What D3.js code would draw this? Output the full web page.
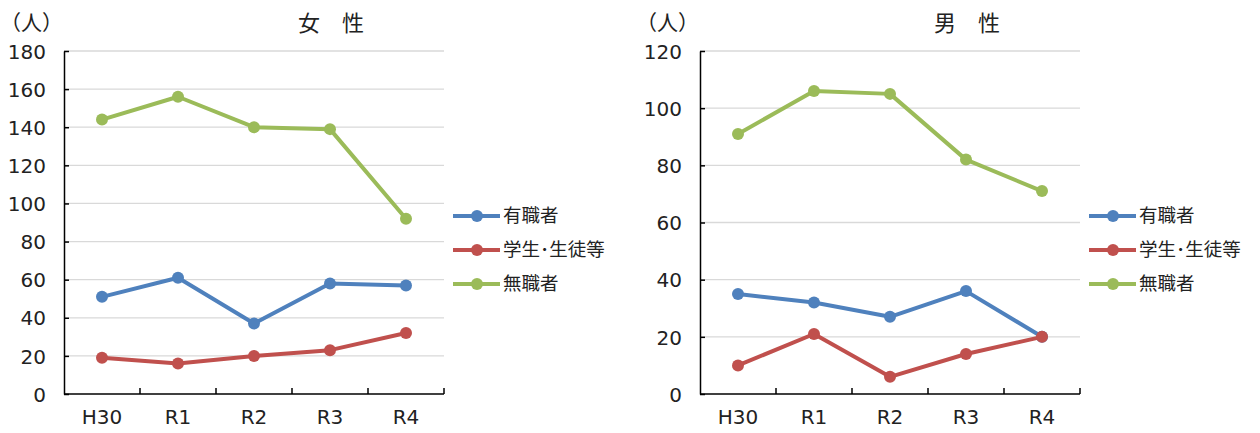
<!DOCTYPE html>
<html>
<head>
<meta charset="utf-8">
<script src="https://d3js.org/d3.v7.min.js"></script>
<style>
body { margin: 0; background: #fff; }
svg { display: block; font-family: "Noto Sans CJK JP", "DejaVu Sans", sans-serif; }
.grid line { stroke: #d9d9d9; stroke-width: 1.3; }
.axis path, .axis line { stroke: #000; stroke-width: 1.5; }
.axis text { font-size: 20px; fill: #222; font-family: "DejaVu Sans", sans-serif; }
</style>
</head>
<body>
<svg width="1260" height="433"></svg>
<script>
const years = ["H30", "R1", "R2", "R3", "R4"];
const seriesNames = ["有職者", "学生･生徒等", "無職者"];
const colors = ["#4F81BD", "#C0504D", "#9BBB59"];

const femaleEmployed = [51, 61, 37, 58, 57];
const femaleStudent = [19, 16, 20, 23, 32];
const femaleUnemployed = [144, 156, 140, 139, 92];

const maleEmployed = [35, 32, 27, 36, 20];
const maleStudent = [10, 21, 6, 14, 20];
const maleUnemployed = [91, 106, 105, 82, 71];

const femaleTicks = [0, 20, 40, 60, 80, 100, 120, 140, 160, 180];
const maleTicks = [0, 20, 40, 60, 80, 100, 120];

const svg = d3.select("svg");

function drawChart(opts) {
  const g = svg.append("g");
  const x = d3.scaleBand().domain(years).range([opts.left, opts.left + 380]);
  const y = d3.scaleLinear().domain([0, opts.max]).range([394, 51]);

  // gridlines
  g.append("g").attr("class", "grid")
    .selectAll("line").data(opts.ticks.slice(1)).enter().append("line")
    .attr("x1", opts.left).attr("x2", opts.left + 380)
    .attr("y1", d => y(d)).attr("y2", d => y(d));

  // y axis
  const ya = g.append("g").attr("class", "axis")
    .attr("transform", "translate(" + opts.left + ",0)")
    .call(d3.axisLeft(y).tickValues(opts.ticks).tickSizeInner(-5).tickSizeOuter(0).tickPadding(18));
  ya.selectAll("text").attr("dy", "0.36em");

  // x axis with ticks at category boundaries
  const xa = g.append("g").attr("class", "axis")
    .attr("transform", "translate(0,394)");
  xa.append("line").attr("x1", opts.left).attr("x2", opts.left + 380).attr("y1", 0).attr("y2", 0);
  xa.selectAll(".tk").data(years).enter().append("line").attr("class", "tk")
    .attr("x1", d => x(d) + x.bandwidth()).attr("x2", d => x(d) + x.bandwidth())
    .attr("y1", 0).attr("y2", -6);
  xa.selectAll(".lbl").data(years).enter().append("text").attr("class", "lbl")
    .attr("x", d => x(d) + x.bandwidth() / 2).attr("y", 30)
    .attr("text-anchor", "middle").text(d => d);

  // series
  const line = d3.line().x((d, i) => x(years[i]) + x.bandwidth() / 2).y(d => y(d));
  opts.data.forEach((vals, s) => {
    g.append("path").datum(vals)
      .attr("d", line).attr("fill", "none")
      .attr("stroke", colors[s]).attr("stroke-width", 4).attr("stroke-linejoin", "round");
    g.selectAll(".pt" + s).data(vals).enter().append("circle")
      .attr("cx", (d, i) => x(years[i]) + x.bandwidth() / 2).attr("cy", d => y(d))
      .attr("r", 6).attr("fill", colors[s]);
  });

  // unit label and title
  g.append("text").attr("x", opts.left - 64).attr("y", 30)
    .attr("font-size", 21).attr("fill", "#222").text("（人）");
  g.append("text").attr("x", opts.left + 267).attr("y", 31)
    .attr("font-size", 22).attr("fill", "#222").attr("text-anchor", "middle")
    .text(opts.title);

  // legend
  const lg = g.append("g").attr("transform", "translate(" + (opts.left + 389) + ",216)");
  seriesNames.forEach((name, s) => {
    const row = lg.append("g").attr("transform", "translate(0," + (s * 34) + ")");
    row.append("line").attr("x1", 0).attr("x2", 47).attr("stroke", colors[s]).attr("stroke-width", 4);
    row.append("circle").attr("cx", 24).attr("r", 6).attr("fill", colors[s]);
    row.append("text").attr("x", 50).attr("dy", "0.35em")
      .attr("font-size", 18.5).attr("fill", "#222").text(name);
  });
}

drawChart({ left: 64, max: 180, ticks: femaleTicks, title: "女　性",
  data: [femaleEmployed, femaleStudent, femaleUnemployed] });
drawChart({ left: 700, max: 120, ticks: maleTicks, title: "男　性",
  data: [maleEmployed, maleStudent, maleUnemployed] });
</script>
</body>
</html>
